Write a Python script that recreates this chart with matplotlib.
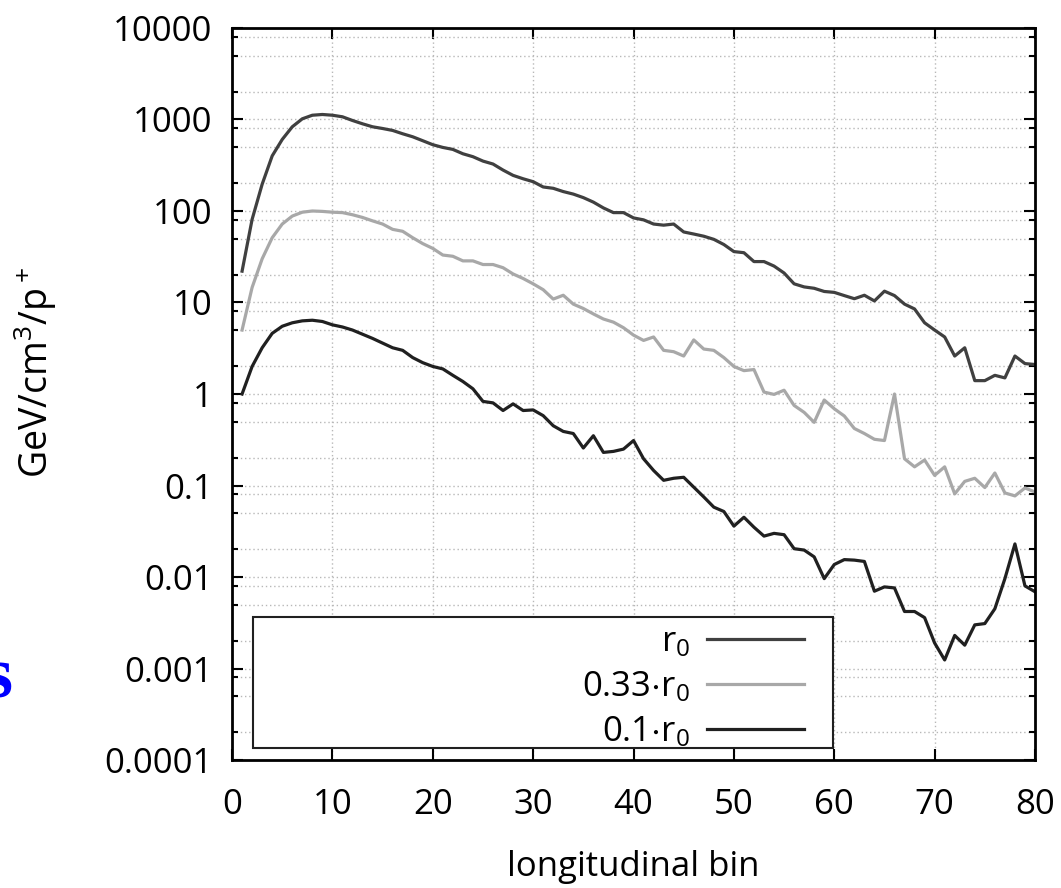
import numpy as np
import matplotlib
matplotlib.use("Agg")
import matplotlib.pyplot as plt
from matplotlib.ticker import FixedLocator, FixedFormatter
from matplotlib.patches import Rectangle

plt.rcParams['font.family'] = ['Open Sans', 'DejaVu Sans']
plt.rcParams['mathtext.fontset'] = 'custom'
plt.rcParams['mathtext.rm'] = 'Open Sans'
plt.rcParams['mathtext.default'] = 'regular'

# energy deposition per longitudinal bin
bins = np.arange(1, 81)
r0 = [22, 81, 196, 400, 605, 832, 1017, 1113, 1134, 1113,
      1070, 975, 897, 832, 797, 759, 698, 647, 586, 530,
      495, 471, 422, 392, 351, 326, 280, 245, 225, 209,
      183, 177, 163, 153, 140, 125, 108, 96, 96, 84,
      80, 72, 70, 72, 59, 56, 53, 49, 43, 36,
      35, 28, 28, 25, 21, 16, 14.8, 14.3, 13.2, 12.9,
      11.9, 11, 12, 10.4, 13.3, 11.9, 9.6, 8.5, 6.0, 5.0,
      4.2, 2.6, 3.2, 1.4, 1.4, 1.6, 1.5, 2.6, 2.15, 2.1]
r033 = [5.0, 14.6, 30, 51, 72, 88, 97, 100, 99, 97,
        96, 91, 85, 78, 72, 63, 60, 51, 44, 39,
        33, 32, 28.5, 28.5, 26, 26, 24, 20.5, 18.3, 16,
        13.8, 10.9, 12, 9.6, 8.6, 7.5, 6.6, 6.1, 5.3, 4.4,
        3.85, 4.2, 3.0, 2.9, 2.6, 3.9, 3.1, 3.0, 2.5, 2.0,
        1.8, 1.85, 1.05, 0.99, 1.1, 0.75, 0.63, 0.49, 0.86, 0.69,
        0.575, 0.42, 0.37, 0.32, 0.31, 1.0, 0.196, 0.16, 0.19, 0.129,
        0.16, 0.081, 0.111, 0.12, 0.095, 0.137, 0.083, 0.077, 0.094, 0.085]
r01 = [1.0, 2.0, 3.2, 4.6, 5.5, 6.0, 6.3, 6.4, 6.2, 5.7,
       5.4, 5.0, 4.5, 4.05, 3.6, 3.2, 3.0, 2.5, 2.2, 2.0,
       1.88, 1.6, 1.37, 1.14, 0.83, 0.8, 0.66, 0.78, 0.66, 0.67,
       0.58, 0.45, 0.39, 0.37, 0.257, 0.35, 0.23, 0.236, 0.25, 0.31,
       0.196, 0.146, 0.114, 0.12, 0.123, 0.096, 0.075, 0.058, 0.052, 0.036,
       0.045, 0.035, 0.028, 0.030, 0.029, 0.0204, 0.0197, 0.0166, 0.0096, 0.0137,
       0.0155, 0.0153, 0.0148, 0.007, 0.0078, 0.0076, 0.0042, 0.0042, 0.0036, 0.0019,
       0.00124, 0.0023, 0.0018, 0.003, 0.0031, 0.0045, 0.0096, 0.023, 0.008, 0.0069]

labels = ["r$_0$", "0.33$\\cdot$r$_0$", "0.1$\\cdot$r$_0$"]
colors = ["#404040", "#a8a8a8", "#202020"]

decades = [1e-4, 1e-3, 1e-2, 1e-1, 1, 10, 100, 1000, 10000]
decade_labels = ["0.0001", "0.001", "0.01", "0.1", "1", "10", "100", "1000", "10000"]

fig = plt.figure(figsize=(10.61, 8.88), dpi=100)
ax = fig.add_axes([0.2187, 0.1441, 0.7568, 0.8244])

for ys, lab, c in zip([r0, r033, r01], labels, colors):
    ax.plot(bins, ys, color=c, lw=2.3, label=lab)

ax.set_yscale("log")
ax.set_xlim(0, 80)
ax.set_ylim(1e-4, 1e4)

minors = [m * d for d in decades[:-1] for m in (2, 5, 8)]
ax.yaxis.set_major_locator(FixedLocator(decades))
ax.yaxis.set_major_formatter(FixedFormatter(decade_labels))
ax.yaxis.set_minor_locator(FixedLocator(minors))
ax.yaxis.set_minor_formatter(FixedFormatter([]))
ax.set_xticks(np.arange(0, 81, 10))

ax.grid(True, which="both", axis="y", color="#b8b8b8", ls=(0, (1, 2)), lw=1)
ax.grid(True, which="major", axis="x", color="#b8b8b8", ls=(0, (1, 2)), lw=1)

ax.tick_params(which="both", direction="in", top=True, right=True,
               labelsize=25, width=1.5)
ax.tick_params(which="major", length=8)
ax.tick_params(which="minor", length=4)
ax.tick_params(axis="y", which="major", pad=14)
ax.tick_params(axis="x", which="major", pad=20)
for s in ax.spines.values():
    s.set_linewidth(2)

ax.set_xlabel("longitudinal bin", fontsize=25, va="top")
ax.xaxis.set_label_coords(0.5, -0.123)
ax.set_ylabel("GeV/cm$^3$/p$^+$", fontsize=27)
ax.yaxis.set_label_coords(-0.215, 0.53)

# legend box
ax.add_patch(Rectangle((0.026, 0.0164), 0.722, 0.179, transform=ax.transAxes,
                       facecolor="white", edgecolor="#202020", lw=1.5, zorder=4))
leg = ax.legend(loc="lower right", bbox_to_anchor=(0.743, -0.019), frameon=False,
                markerfirst=False, fontsize=25, handlelength=2.8,
                labelspacing=0.3, borderpad=0.2, handletextpad=0.5)
leg.set_zorder(5)

fig.text(13 / 1061, 0.215, "s", color="#0000ff", fontsize=52,
         family="Liberation Serif", weight="bold", ha="right", va="baseline")

fig.savefig("out.png", dpi=100)
